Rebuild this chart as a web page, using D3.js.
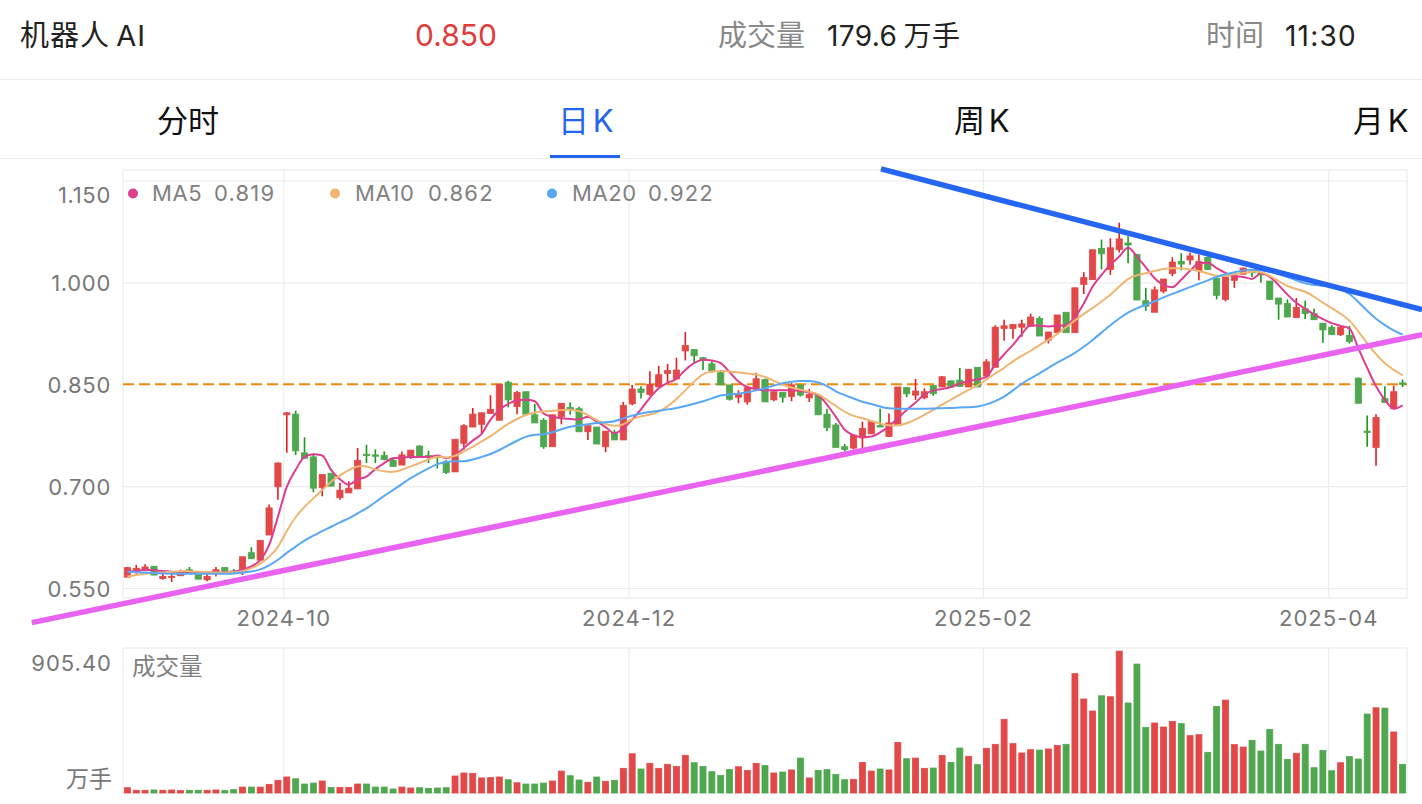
<!DOCTYPE html>
<html>
<head>
<meta charset="utf-8">
<script src="https://cdn.jsdelivr.net/npm/d3@7"></script>
<style>
    body { margin: 0; background: #fff; }
    svg { display: block; }
    text { font-family: "Inter", "Noto Sans CJK SC", sans-serif; }
    .domain { display: none; }
</style>
</head>
<body>
<div id="chart"></div>
<script>
// Daily candles, one value per trading day
const opens = [
    .566,.573,.576,.582,.564,.566,.568,.577,.570,.562,
    .573,.580,.575,.576,.602,.591,.628,.699,.805,.806,
    .749,.743,.698,.719,.683,.690,.696,.747,.746,.745,
    .738,.731,.743,.759,.745,.744,.736,.721,.763,.787,
    .791,.807,.797,.853,.817,.839,.805,.797,.758,.802,
    .816,.814,.780,.787,.758,.779,.768,.821,.843,.835,
    .846,.866,.858,.899,.901,.889,.880,.867,.849,.831,
    .824,.843,.857,.827,.838,.832,.849,.830,.834,.806,
    .790,.758,.756,.771,.777,.789,.773,.789,.845,.834,
    .830,.848,.846,.855,.856,.846,.875,.862,.875,.932,
    .932,.934,.935,.947,.915,.926,.956,.926,.997,1.004,
    1.050,1.019,1.048,1.058,1.041,.973,.956,.987,1.013,1.031,
    1.033,1.017,1.037,1.006,.975,1.003,1.012,1.016,1.014,1.002,
    .977,.969,.948,.961,.954,.940,.934,.923,.922,.859,
    .781,.757,.829,.814,.852];
const closes = [
    .580,.579,.581,.569,.567,.567,.574,.571,.563,.567,
    .577,.573,.571,.596,.593,.620,.668,.734,.808,.752,
    .741,.697,.717,.700,.694,.697,.738,.745,.744,.739,
    .729,.746,.753,.743,.743,.742,.720,.769,.789,.806,
    .808,.813,.850,.827,.838,.806,.793,.758,.805,.822,
    .813,.780,.789,.762,.781,.768,.819,.843,.838,.850,
    .864,.870,.871,.907,.892,.885,.870,.849,.828,.836,
    .845,.858,.824,.839,.831,.849,.834,.835,.805,.786,
    .757,.754,.775,.785,.795,.787,.793,.846,.836,.840,
    .839,.836,.861,.846,.847,.872,.846,.883,.934,.936,
    .938,.939,.949,.921,.927,.952,.926,.992,1.007,1.048,
    1.042,1.051,1.064,1.055,.974,.965,.989,1.005,1.030,1.027,
    1.039,1.031,1.019,.981,1.008,1.010,1.021,1.014,1.011,.975,
    .968,.949,.963,.954,.945,.930,.923,.934,.913,.822,
    .779,.801,.823,.839,.850];
const highs = [
    .581,.584,.585,.582,.571,.571,.577,.581,.570,.571,
    .581,.580,.578,.596,.610,.620,.673,.735,.809,.811,
    .772,.748,.717,.719,.705,.707,.756,.761,.754,.751,
    .740,.751,.753,.760,.752,.745,.738,.769,.791,.815,
    .808,.834,.850,.855,.840,.839,.821,.800,.805,.822,
    .823,.817,.789,.787,.781,.783,.824,.849,.847,.869,
    .877,.880,.889,.927,.902,.890,.884,.868,.849,.841,
    .845,.867,.858,.839,.838,.852,.849,.843,.834,.814,
    .793,.762,.775,.795,.797,.814,.807,.846,.845,.858,
    .844,.848,.862,.855,.874,.872,.875,.887,.937,.945,
    .938,.945,.954,.950,.927,.952,.956,.992,1.015,1.048,
    1.063,1.065,1.088,1.068,1.042,.992,.994,1.005,1.037,1.043,
    1.044,1.041,1.038,1.007,1.008,1.012,1.022,1.018,1.015,1.002,
    .977,.975,.977,.973,.961,.940,.937,.936,.936,.860,
    .804,.806,.847,.848,.857];
const lows = [
    .566,.571,.576,.569,.562,.559,.568,.571,.563,.560,
    .567,.573,.571,.569,.593,.591,.628,.680,.749,.746,
    .741,.691,.685,.700,.680,.690,.696,.734,.734,.738,
    .729,.731,.740,.743,.734,.726,.718,.721,.754,.787,
    .778,.807,.797,.816,.806,.806,.793,.755,.758,.791,
    .805,.780,.768,.762,.750,.768,.768,.819,.829,.833,
    .846,.853,.858,.885,.881,.871,.867,.849,.826,.822,
    .820,.843,.824,.825,.823,.825,.832,.824,.805,.781,
    .757,.751,.754,.748,.777,.787,.773,.789,.831,.827,
    .828,.833,.846,.846,.846,.846,.846,.862,.875,.914,
    .917,.920,.935,.921,.910,.926,.926,.926,.983,1.004,
    1.019,1.011,1.044,1.028,.974,.958,.956,.984,1.009,1.018,
    1.026,1.003,1.019,.975,.972,.992,1.012,1.008,1.000,.974,
    .945,.949,.948,.946,.945,.911,.923,.921,.910,.822,
    .758,.730,.823,.813,.846];

// Moving averages
const ma5 = [
    .574,.575,.577,.576,.575,.574,.573,.574,.573,.573,
    .573,.573,.574,.577,.582,.591,.613,.655,.699,.724,
    .743,.747,.745,.724,.710,.702,.710,.714,.725,.734,
    .741,.742,.743,.743,.743,.745,.741,.746,.756,.767,
    .777,.798,.812,.821,.826,.827,.825,.807,.802,.800,
    .799,.798,.802,.795,.787,.778,.785,.798,.813,.830,
    .844,.852,.858,.871,.881,.886,.885,.881,.868,.854,
    .846,.843,.841,.841,.841,.841,.840,.838,.834,.820,
    .802,.783,.775,.772,.773,.779,.788,.800,.812,.823,
    .835,.841,.843,.846,.851,.855,.857,.861,.879,.894,
    .908,.924,.937,.936,.935,.936,.937,.949,.969,.994,
    1.011,1.026,1.038,1.051,1.038,1.022,1.006,.996,.993,1.004,
    1.017,1.028,1.029,1.021,1.014,1.009,1.008,1.005,1.013,1.008,
    .996,.982,.970,.961,.953,.946,.940,.936,.932,.903,
    .874,.847,.827,.814,.819];
const ma10 = [
    .567,.569,.571,.572,.573,.574,.575,.575,.574,.573,
    .573,.573,.573,.574,.579,.585,.596,.608,.635,.655,
    .670,.682,.694,.707,.716,.724,.730,.730,.724,.722,
    .720,.724,.729,.734,.739,.745,.741,.744,.751,.758,
    .766,.773,.783,.792,.799,.805,.809,.810,.811,.812,
    .813,.811,.805,.797,.791,.788,.790,.799,.803,.805,
    .809,.817,.828,.841,.854,.866,.869,.870,.869,.867,
    .866,.865,.861,.855,.849,.845,.842,.839,.836,.827,
    .818,.809,.803,.800,.796,.792,.789,.789,.792,.798,
    .805,.812,.820,.827,.835,.842,.848,.857,.866,.874,
    .884,.892,.899,.908,.915,.924,.934,.944,.954,.962,
    .972,.981,.994,1.006,1.011,1.013,1.017,1.020,1.021,1.021,
    1.019,1.017,1.013,1.009,1.010,1.012,1.014,1.016,1.016,1.010,
    1.002,.994,.990,.987,.979,.970,.962,.954,.945,.928,
    .910,.894,.880,.871,.863];
const ma20 = [
    .574,.573,.573,.572,.571,.571,.571,.571,.571,.571,
    .571,.571,.571,.573,.574,.577,.583,.591,.602,.611,
    .620,.627,.634,.640,.647,.652,.660,.667,.676,.686,
    .694,.703,.712,.719,.726,.733,.736,.737,.736,.739,
    .743,.747,.753,.760,.767,.773,.776,.776,.779,.784,
    .788,.789,.791,.793,.794,.795,.800,.804,.807,.809,
    .811,.813,.815,.818,.821,.825,.829,.834,.835,.836,
    .838,.841,.844,.848,.852,.854,.855,.855,.853,.848,
    .839,.834,.829,.824,.821,.817,.814,.814,.814,.814,
    .814,.814,.815,.815,.816,.816,.817,.820,.825,.831,
    .841,.851,.859,.866,.874,.882,.889,.896,.905,.915,
    .926,.937,.947,.956,.962,.967,.972,.978,.983,.988,
    .993,.998,1.003,1.008,1.012,1.015,1.018,1.019,1.018,1.016,
    1.012,1.008,1.003,.998,.996,.995,.994,.990,.984,.971,
    .958,.946,.937,.929,.923];

// Traded volume in 万手
const volumes = [
    33,17,17,19,17,19,15,17,17,17,
    19,15,21,37,37,37,54,79,100,89,
    56,62,75,35,35,35,56,56,37,37,
    25,37,31,33,29,31,33,106,125,123,
    94,96,100,83,64,56,56,62,75,137,
    108,81,67,100,73,79,154,245,150,185,
    154,179,166,235,189,166,133,110,146,164,
    141,185,171,125,131,144,218,94,141,146,
    116,83,85,191,137,150,144,316,214,218,
    154,156,235,191,281,229,177,279,304,460,
    308,250,270,268,275,297,304,745,587,512,
    607,601,886,562,805,410,437,412,447,433,
    358,364,254,541,580,302,287,329,262,397,
    304,210,248,304,158,266,139,189,227,212,
    493,532,530,381,179];

// Axis ticks and legend
const priceTicks = [0.55, 0.70, 0.85, 1.00, 1.15];
const dateTickPos = [17.6, 56.6, 96.6, 135.6];
const dateTickLabels = ["2024-10", "2024-12", "2025-02", "2025-04"];
const maNames = ["MA5", "MA10", "MA20"];
const maLatest = ["0.819", "0.862", "0.922"];
const lastPrice = 0.85;
const volumeMax = 905.40;

// Hand drawn trend lines, as [day index, price]
const blueTrend = [[85.1, 1.167], [146.2, 0.960]];
const pinkTrend = [[-10.8, 0.499], [146.2, 0.923]];

const width = 1422;
const height = 804;
const plot = { left: 123, right: 1407, top: 170, bottom: 598 };
const volPlot = { top: 648, bottom: 793 };

const red = "#e24848";
const redDark = "#e41f1f";
const green = "#4fa74f";
const greenDark = "#159a15";
const maColors = ["#dc3d8f", "#efb571", "#58a8f6"];
const gridColor = "#ececec";

const svg = d3.select("#chart").append("svg")
    .attr("width", width)
    .attr("height", height);

// Scales
const x = d3.scaleLinear().domain([0, 144]).range([127.4, 1402.6]);
const y = d3.scaleLinear().domain([0.55, 1.15]).range([588, 180.5]);
const yVol = d3.scaleLinear().domain([0, volumeMax]).range([volPlot.bottom, volPlot.top]);

// Text helper, spacing is letter spacing and squeeze tightens the gap at a space
function label(txt, px, py, size, color, anchor, spacing, squeeze) {
    return svg.append("text")
        .attr("x", px)
        .attr("y", py)
        .attr("text-anchor", anchor || "start")
        .attr("font-size", size)
        .attr("fill", color)
        .attr("letter-spacing", spacing || 0)
        .attr("word-spacing", squeeze || 0)
        .text(txt);
}

// Header row
label("机器人 AI", 20, 46, 29, "#222", "start", 1, -3);
label("0.850", 415, 46, 30, "#e23b3b");
label("成交量", 718, 46, 29, "#888");
label("179.6 万手", 827, 46, 28, "#222", "start", 0.4, -2);
label("时间", 1206, 46, 29, "#888");
label("11:30", 1285, 46, 28, "#222", "start", 1.2);

svg.append("line").attr("x1", 0).attr("x2", width).attr("y1", 79.5).attr("y2", 79.5).attr("stroke", gridColor);
svg.append("line").attr("x1", 0).attr("x2", width).attr("y1", 158.5).attr("y2", 158.5).attr("stroke", gridColor);

// Tabs
label("分时", 157, 132, 31, "#111");
label("日 K", 558, 132, 31, "#2364f0", "start", 0, -5);
label("周 K", 954, 132, 31, "#111", "start", 0, -5);
label("月 K", 1353, 132, 31, "#111", "start", 0, -5);
svg.append("rect").attr("x", 550).attr("y", 155).attr("width", 70).attr("height", 3).attr("fill", "#2364f0");

// Plot frames
[[plot.top, plot.bottom], [volPlot.top, volPlot.bottom]].forEach(d => {
    svg.append("rect")
        .attr("x", plot.left)
        .attr("y", d[0])
        .attr("width", plot.right - plot.left)
        .attr("height", d[1] - d[0])
        .attr("fill", "none")
        .attr("stroke", gridColor)
        .attr("stroke-width", 1.2);
});

// Price axis and horizontal grid
const yAxisG = svg.append("g")
    .attr("transform", `translate(${plot.left},0)`)
    .call(d3.axisLeft(y)
        .tickValues(priceTicks)
        .tickFormat(d3.format(".3f"))
        .tickSize(-(plot.right - plot.left))
        .tickPadding(12));
yAxisG.selectAll(".tick line").attr("stroke", gridColor).attr("stroke-width", 1.2);
yAxisG.selectAll(".tick text")
    .attr("font-size", 22)
    .attr("letter-spacing", 0.7)
    .attr("fill", "#777")
    .attr("dy", d => d === 1.15 ? "0.98em" : d === 0.55 ? "0.4em" : "0.38em");

// Date axis and vertical grid
const xAxisG = svg.append("g")
    .attr("transform", `translate(0,${plot.bottom})`)
    .call(d3.axisBottom(x)
        .tickValues(dateTickPos)
        .tickFormat((d, i) => dateTickLabels[i])
        .tickSize(-(plot.bottom - plot.top))
        .tickPadding(12));
xAxisG.selectAll(".tick line").attr("stroke", gridColor).attr("stroke-width", 1.2);
xAxisG.selectAll(".tick text").attr("font-size", 22).attr("letter-spacing", 1).attr("fill", "#777");

const volAxisG = svg.append("g")
    .attr("transform", `translate(0,${volPlot.bottom})`)
    .call(d3.axisBottom(x)
        .tickValues(dateTickPos)
        .tickFormat("")
        .tickSize(-(volPlot.bottom - volPlot.top)));
volAxisG.selectAll(".tick line").attr("stroke", gridColor).attr("stroke-width", 1.2);

// Last price line
svg.append("line")
    .attr("x1", plot.left)
    .attr("x2", plot.right)
    .attr("y1", y(lastPrice))
    .attr("y2", y(lastPrice))
    .attr("stroke", "#f08a0a")
    .attr("stroke-width", 2)
    .attr("stroke-dasharray", "11 5");

// Candles
const days = d3.range(opens.length);
const isUp = i => closes[i] >= opens[i];

svg.append("g").selectAll("line")
    .data(days)
    .enter().append("line")
    .attr("x1", i => x(i))
    .attr("x2", i => x(i))
    .attr("y1", i => y(highs[i]))
    .attr("y2", i => y(lows[i]))
    .attr("stroke", i => isUp(i) ? redDark : greenDark)
    .attr("stroke-width", 1.6);

svg.append("g").selectAll("rect")
    .data(days)
    .enter().append("rect")
    .attr("x", i => x(i) - 3.1)
    .attr("width", 6.2)
    .attr("y", i => y(Math.max(opens[i], closes[i])))
    .attr("height", i => Math.max(1, Math.abs(y(opens[i]) - y(closes[i]))))
    .attr("fill", i => isUp(i) ? red : green)
    .attr("stroke", i => isUp(i) ? red : green)
    .attr("stroke-width", 0.8);

// Moving average lines, the slower two are smoothed harder
const ma5Line = d3.line()
    .x((d, i) => x(i))
    .y(d => y(d))
    .curve(d3.curveMonotoneX);
const slowLine = d3.line()
    .x((d, i) => x(i))
    .y(d => y(d))
    .curve(d3.curveBasis);

[ma5Line(ma5), slowLine(ma10), slowLine(ma20)].forEach((path, k) => {
    svg.append("path")
        .attr("d", path)
        .attr("fill", "none")
        .attr("stroke", maColors[k])
        .attr("stroke-width", 2);
});

// Legend
const legendDotX = [133, 335, 552];
const legendNameX = [152, 355, 572];
const legendValueX = [214, 428, 648];
maNames.forEach((name, k) => {
    svg.append("circle")
        .attr("cx", legendDotX[k])
        .attr("cy", 193.5)
        .attr("r", 5)
        .attr("fill", maColors[k]);
    label(name, legendNameX[k], 201, 22, "#808080", "start", 0.6);
    label(maLatest[k], legendValueX[k], 201, 22, "#808080", "start", 1.2);
});

// Volume bars
svg.append("g").selectAll("rect")
    .data(days)
    .enter().append("rect")
    .attr("x", i => x(i) - 3)
    .attr("width", 6)
    .attr("y", i => yVol(volumes[i]))
    .attr("height", i => yVol(0) - yVol(volumes[i]))
    .attr("fill", i => isUp(i) ? red : green)
    .attr("stroke", i => isUp(i) ? red : green)
    .attr("stroke-width", 0.8);

label("905.40", 112, 671, 22, "#777", "end", 1);
label("万手", 112, 787, 23, "#777", "end");
label("成交量", 132, 675, 23.5, "#808080");

// Trend lines on top of everything
const trendLine = d3.line().x(d => x(d[0])).y(d => y(d[1]));
svg.append("path").attr("d", trendLine(pinkTrend))
    .attr("fill", "none").attr("stroke", "#e963f0").attr("stroke-width", 5.5);
svg.append("path").attr("d", trendLine(blueTrend))
    .attr("fill", "none").attr("stroke", "#2465f2").attr("stroke-width", 5.5);
</script>
</body>
</html>
